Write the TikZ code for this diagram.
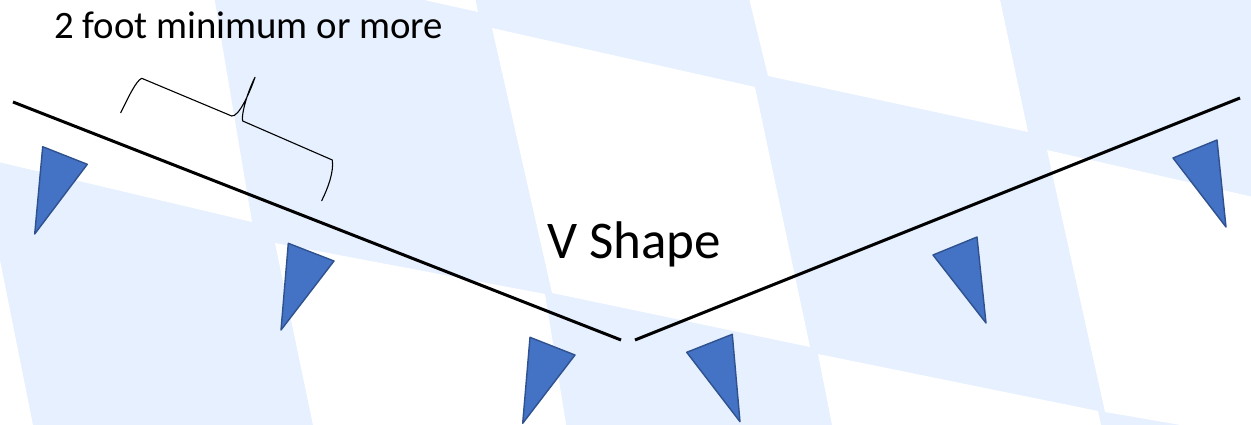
\documentclass[tikz,border=0pt]{standalone}
\usepackage{fontspec}
\setmainfont{Carlito}
\definecolor{bgblue}{HTML}{E6F0FE}
\definecolor{flagfill}{HTML}{4472C4}
\definecolor{flagedge}{HTML}{2F528F}
\begin{document}
\begin{tikzpicture}[x=1pt,y=-1pt,
  cell/.style={fill=white,draw=none},
  rope/.style={line width=3pt,black},
  flag/.style={fill=flagfill,draw=flagedge,line width=1.4pt,line join=round},
  bracepath/.style={line width=1.1pt,black,line join=round,line cap=round},
  label/.style={anchor=base west,inner sep=0pt,text=black}]
% background
\fill[bgblue] (0,0) rectangle (1251,425);
\useasboundingbox (0,0) rectangle (1251,425);
\begin{scope}
\clip (0,0) rectangle (1251,425);
\fill[cell] (-10,-10) -- (213,-10) -- (252,222) -- (-10,160) -- cycle;
\fill[cell] (370,-12) -- (473,-12) -- (478,12) -- cycle;
\fill[cell] (492,28) -- (755,87) -- (810,347) -- (552,293) -- cycle;
\fill[cell] (275,243) -- (545,294) -- (567,430) -- (314,430) -- cycle;
\fill[cell] (-20,210) -- (-10,210) -- (34,430) -- (-20,430) -- cycle;
\fill[cell] (747,-10) -- (998,-10) -- (1028,132) -- (768,76) -- cycle;
\fill[cell] (1047,150) -- (1262,199) -- (1262,439) -- (1105,412) -- cycle;
\fill[cell] (818,354) -- (1098,411) -- (1102,430) -- (833,430) -- cycle;
\end{scope}
% rope end points
\coordinate (L1) at (13,102);
\coordinate (L2) at (621,340);
\coordinate (R1) at (635,340);
\coordinate (R2) at (1240,98);
\draw[rope] (L1) -- (L2);
\draw[rope] (R1) -- (R2);
% flags
\draw[flag] (42.7,146.7) -- (87.3,164.3) -- (34.7,234) -- cycle;
\draw[flag] (288.3,243.3) -- (334,261) -- (281,330) -- cycle;
\draw[flag] (530,337.3) -- (575,355) -- (522.7,423.3) -- cycle;
\draw[flag] (732.3,334.3) -- (686.7,352.3) -- (740,421.7) -- cycle;
\draw[flag] (977,237) -- (933,255) -- (986,323) -- cycle;
\draw[flag] (1217,140) -- (1173,158) -- (1226,227) -- cycle;
% brace
\draw[bracepath] (120.7,112.7) .. controls (129,96) and (136,81) .. (141.7,78.3)
  -- (231.7,116) .. controls (239,117) and (250,92) .. (255,77.3)
  .. controls (246,95) and (241,117) .. (242.7,121)
  -- (332.3,160) .. controls (334,172) and (328,188) .. (321.7,200.7);
% labels
\node[label,font=\fontsize{38.8}{46}\selectfont] (dist) at (54,39) {2 foot minimum or more};
\node[label,font=\fontsize{53}{63}\selectfont] (vshape) at (547,258) {V Shape};
\end{tikzpicture}
\end{document}
